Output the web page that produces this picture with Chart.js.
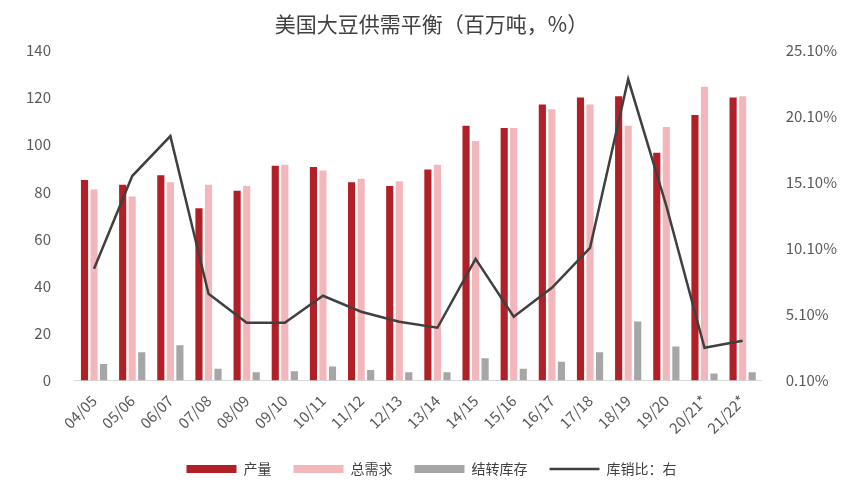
<!DOCTYPE html>
<html><head><meta charset="utf-8">
<script src="https://cdn.jsdelivr.net/npm/chart.js@4"></script>
<style>body{margin:0;background:#fff}#wrap{width:865px;height:492px}</style>
</head><body><div id="wrap"><canvas id="c"></canvas></div>
<script>
const labels = ['04/05','05/06','06/07','07/08','08/09','09/10','10/11','11/12','12/13','13/14','14/15','15/16','16/17','17/18','18/19','19/20','20/21*','21/22*'];
const production = [85,83,87,73,80.5,91,90.5,84,82.5,89.5,108,107,117,120,120.5,96.5,112.5,120];
const demand = [81,78,84,83,82.5,91.5,89,85.5,84.5,91.5,101.5,107,115,117,108,107.5,124.5,120.5];
const stocks = [7,12,15,5,3.5,4,6,4.5,3.5,3.5,9.5,5,8,12,25,14.5,3,3.5];
const ratio = [8.56,15.58,18.6,6.67,4.48,4.48,6.52,5.31,4.56,4.1,9.31,4.93,7.12,10.15,22.9,13.32,2.59,3.12];
const leftTicks = [0,20,40,60,80,100,120,140];
const rightTicks = [0.1,5.1,10.1,15.1,20.1,25.1];

Chart.defaults.font.family = '"Noto Sans CJK SC", "Noto Sans", sans-serif';
Chart.defaults.color = '#595959';

new Chart(document.getElementById('c'), {
  data: {
    labels: labels,
    datasets: [
      {type:'bar', label:'产量', data:production, backgroundColor:'#b22027', pointStyle:'rect', yAxisID:'y', barPercentage:0.75, categoryPercentage:0.75, order:2},
      {type:'bar', label:'总需求', data:demand, backgroundColor:'#f2b6bb', pointStyle:'rect', yAxisID:'y', barPercentage:0.75, categoryPercentage:0.75, order:2},
      {type:'bar', label:'结转库存', data:stocks, backgroundColor:'#a6a6a6', pointStyle:'rect', yAxisID:'y', barPercentage:0.75, categoryPercentage:0.75, order:2},
      {type:'line', label:'库销比：右', data:ratio, borderColor:'#404040', backgroundColor:'#404040', borderWidth:2.5, pointRadius:0, pointStyle:'line', tension:0, yAxisID:'y1', order:1}
    ]
  },
  options: {
    responsive:true, maintainAspectRatio:false, animation:false,
    layout:{padding:{left:10,right:12,top:5,bottom:6}},
    plugins:{
      title:{display:true, text:'美国大豆供需平衡（百万吨，%）', font:{size:21, weight:'normal'}, color:'#404040', padding:{top:6,bottom:14}},
      legend:{position:'bottom', labels:{sort:(a,b)=>a.datasetIndex-b.datasetIndex, usePointStyle:true, pointStyleWidth:50, boxHeight:8, font:{size:14}, padding:22, color:'#404040'}},
      tooltip:{enabled:false}
    },
    scales:{
      x:{grid:{display:false}, border:{color:'#d9d9d9'}, ticks:{maxRotation:45, minRotation:45, font:{size:15}, color:'#595959'}},
      y:{position:'left', min:0, max:140, afterBuildTicks:a=>{a.ticks=leftTicks.map(v=>({value:v}))}, grid:{display:false}, border:{display:false}, ticks:{font:{size:15}, padding:16}},
      y1:{position:'right', min:0.1, max:25.1, afterBuildTicks:a=>{a.ticks=rightTicks.map(v=>({value:v}))}, grid:{display:false}, border:{display:false}, ticks:{font:{size:15}, padding:16, callback:v=>v.toFixed(2)+'%'}}
    }
  }
});
</script></body></html>
